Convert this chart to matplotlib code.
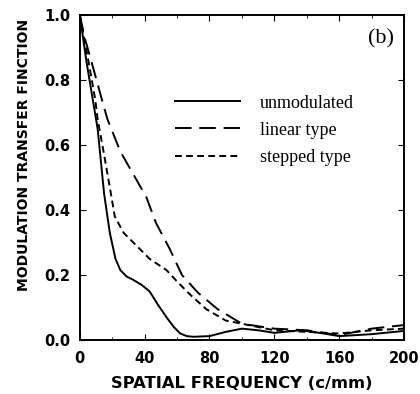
import matplotlib.pyplot as plt
from matplotlib.ticker import MultipleLocator

# values
freq_unmod = [0, 4, 8, 11, 15, 18.5, 22, 25, 29, 33, 38, 43, 48, 53.5, 58, 62, 66, 70, 80, 90, 100, 110, 120, 136, 148, 160, 180, 200]
mtf_unmod = [1.0, 0.86, 0.74, 0.65, 0.45, 0.33, 0.25, 0.215, 0.195, 0.185, 0.17, 0.15, 0.11, 0.07, 0.04, 0.02, 0.012, 0.01, 0.012, 0.025, 0.035, 0.03, 0.022, 0.03, 0.022, 0.012, 0.018, 0.028]

freq_linear = [0, 3, 7, 12.5, 17, 25, 33, 41, 47, 55.5, 63, 73, 85, 100, 120, 140, 160, 180, 200]
mtf_linear = [1.0, 0.93, 0.86, 0.76, 0.68, 0.58, 0.51, 0.44, 0.36, 0.28, 0.2, 0.145, 0.095, 0.05, 0.035, 0.03, 0.015, 0.035, 0.046]

freq_stepped = [0, 3, 6, 9.5, 11, 15, 18.5, 21.6, 27, 33, 43, 53.5, 60, 68, 78, 90, 100, 120, 140, 160, 180, 200]
mtf_stepped = [1.0, 0.92, 0.84, 0.74, 0.68, 0.57, 0.47, 0.38, 0.33, 0.30, 0.25, 0.215, 0.18, 0.14, 0.095, 0.06, 0.05, 0.03, 0.025, 0.02, 0.03, 0.035]

x_ticks = [0, 40, 80, 120, 160, 200]
y_ticks = [0.0, 0.2, 0.4, 0.6, 0.8, 1.0]

fig = plt.figure(figsize=(4.2, 3.94), dpi=100)
ax = fig.add_axes([0.19, 0.137, 0.772, 0.825])

ax.plot(freq_unmod, mtf_unmod, color='black', lw=1.4, label='unmodulated')
ax.plot(freq_linear, mtf_linear, color='black', lw=1.4, dashes=(8.5, 4), label='linear type')
ax.plot(freq_stepped, mtf_stepped, color='black', lw=1.4, dashes=(3.5, 2.2), label='stepped type')

ax.set_xlim(0, 200)
ax.set_ylim(0, 1.0)
ax.set_xticks(x_ticks)
ax.set_yticks(y_ticks)
ax.set_yticklabels([f'{v:.1f}' for v in y_ticks])
ax.xaxis.set_minor_locator(MultipleLocator(20))
ax.tick_params(which='both', direction='in', top=True, right=True)
ax.tick_params(which='major', length=4, width=0.8, labelsize=10.5)
ax.tick_params(axis='x', which='major', pad=8)
ax.tick_params(axis='y', which='major', pad=7)
ax.tick_params(which='minor', length=2, width=0.6)
for lab in ax.get_xticklabels() + ax.get_yticklabels():
    lab.set_fontweight('bold')
for s in ax.spines.values():
    s.set_linewidth(1.4)

ax.set_xlabel('SPATIAL FREQUENCY (c/mm)', fontsize=11.8, fontweight='bold', labelpad=7)
ax.set_ylabel('MODULATION TRANSFER FINCTION', fontsize=10, fontweight='bold')
ax.yaxis.set_label_coords(-0.15, 0.57)

ax.text(0.968, 0.955, '(b)', transform=ax.transAxes, ha='right', va='top',
        fontsize=16, family='Liberation Serif')

ax.legend(loc='upper left', bbox_to_anchor=(0.244, 0.805), frameon=False,
          prop={'family': 'Liberation Serif', 'size': 13},
          handlelength=3.6, handletextpad=1.1, labelspacing=0.56)

fig.savefig('out.png', dpi=100)
